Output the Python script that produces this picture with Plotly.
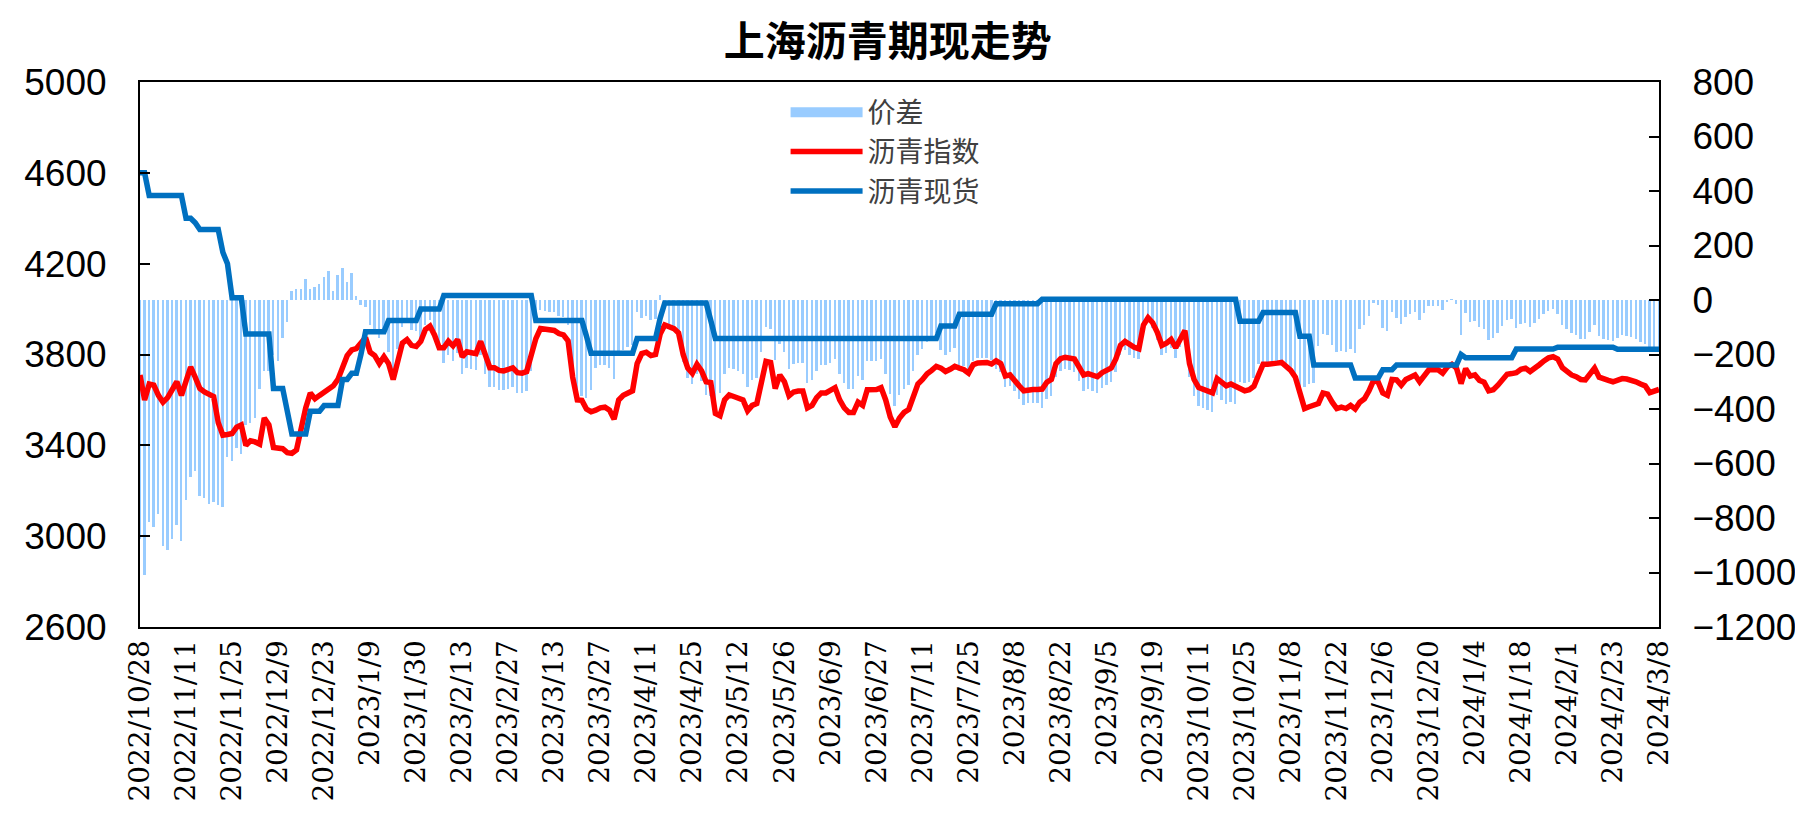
import plotly.graph_objects as go

# ---- tick labels (every 10th trading day) ----
tick_labels = ["2022/10/28", "2022/11/11", "2022/11/25", "2022/12/9", "2022/12/23",
               "2023/1/9", "2023/1/30", "2023/2/13", "2023/2/27", "2023/3/13",
               "2023/3/27", "2023/4/11", "2023/4/25", "2023/5/12", "2023/5/26",
               "2023/6/9", "2023/6/27", "2023/7/11", "2023/7/25", "2023/8/8",
               "2023/8/22", "2023/9/5", "2023/9/19", "2023/10/11", "2023/10/25",
               "2023/11/8", "2023/11/22", "2023/12/6", "2023/12/20", "2024/1/4",
               "2024/1/18", "2024/2/1", "2024/2/23", "2024/3/8"]

# ---- 沥青指数 (futures index), one value per trading day ----
index_price = [
    3710, 3600, 3670, 3665, 3620, 3590, 3610, 3640, 3680, 3620,
    3690, 3745, 3700, 3650, 3635, 3625, 3615, 3500, 3445, 3448,
    3452, 3480, 3490, 3400, 3420, 3415, 3405, 3520, 3490, 3390,
    3388, 3385, 3368, 3365, 3380, 3480, 3565, 3630, 3605, 3620,
    3632, 3650, 3662, 3690, 3740, 3795, 3820, 3826, 3850, 3875,
    3810, 3795, 3760, 3790, 3760, 3690, 3770, 3850, 3866, 3840,
    3835, 3858, 3910, 3925, 3885, 3830, 3830, 3858, 3838, 3866,
    3790, 3812, 3808, 3804, 3858, 3790, 3742, 3742, 3730, 3728,
    3735, 3741, 3720, 3718, 3725, 3800, 3870, 3914, 3910, 3906,
    3906, 3892, 3886, 3860, 3700, 3600, 3598, 3560, 3548, 3555,
    3565, 3568, 3555, 3515, 3600, 3620, 3632, 3640, 3760, 3804,
    3810, 3795, 3800, 3890, 3930, 3925, 3914, 3895, 3800, 3740,
    3717, 3757, 3728, 3680, 3676, 3540, 3530, 3600, 3622, 3615,
    3608, 3600, 3552, 3576, 3584, 3680, 3770, 3765, 3650, 3710,
    3680, 3618, 3635, 3639, 3639, 3565, 3576, 3610, 3631, 3631,
    3640, 3654, 3600, 3565, 3545, 3545, 3590, 3576, 3645, 3646,
    3646, 3654, 3600, 3525, 3482, 3520, 3545, 3558, 3610, 3670,
    3690, 3715, 3730, 3748, 3740, 3725, 3735, 3748, 3740, 3733,
    3718, 3755, 3763, 3765, 3765, 3758, 3772, 3760, 3705, 3710,
    3690, 3662, 3640, 3645, 3646, 3646, 3648, 3678, 3690, 3760,
    3782, 3788, 3785, 3780, 3745, 3710, 3716, 3710, 3702, 3720,
    3730, 3741, 3780, 3840, 3858, 3843, 3832, 3825, 3930, 3962,
    3940, 3898, 3840, 3850, 3866, 3830, 3870, 3905, 3760, 3690,
    3654, 3648, 3640, 3631, 3694, 3675, 3662, 3670, 3660, 3645,
    3640, 3645, 3660, 3710, 3757, 3757, 3757, 3762, 3765, 3748,
    3730, 3700, 3620, 3562, 3570, 3576, 3584, 3630, 3625, 3590,
    3562, 3568, 3562, 3576, 3560, 3590, 3605, 3640, 3686, 3678,
    3630, 3620, 3690, 3688, 3665, 3690, 3702, 3710, 3680, 3705,
    3733, 3733, 3733, 3718, 3745, 3757, 3740, 3672, 3738, 3705,
    3710, 3686, 3678, 3640, 3645, 3665, 3690, 3713, 3716, 3720,
    3735, 3740, 3725, 3738, 3755, 3772, 3785, 3790, 3780, 3742,
    3725, 3710, 3702, 3690, 3688, 3715, 3740, 3700, 3690, 3686,
    3680, 3685, 3694, 3692, 3688, 3680, 3670, 3662, 3632, 3640,
    3646]

# ---- 沥青现货 (spot) ----
spot_price = [
    4600, 4600, 4500, 4500, 4500, 4500, 4500, 4500, 4500, 4500,
    4400, 4400, 4380, 4350, 4350, 4350, 4350, 4350, 4250, 4200,
    4050, 4050, 4050, 3890, 3890, 3890, 3890, 3890, 3890, 3650,
    3650, 3650, 3550, 3450, 3450, 3450, 3450, 3550, 3550, 3550,
    3575, 3575, 3575, 3575, 3690, 3690, 3717, 3717, 3800, 3900,
    3900, 3900, 3900, 3900, 3950, 3950, 3950, 3950, 3950, 3950,
    3950, 4000, 4000, 4000, 4000, 4000, 4060, 4060, 4060, 4060,
    4060, 4060, 4060, 4060, 4060, 4060, 4060, 4060, 4060, 4060,
    4060, 4060, 4060, 4060, 4060, 4060, 3950, 3950, 3950, 3950,
    3950, 3950, 3950, 3950, 3950, 3950, 3950, 3880, 3805, 3805,
    3805, 3805, 3805, 3805, 3805, 3805, 3805, 3805, 3870, 3870,
    3870, 3870, 3870, 3960, 4027, 4027, 4027, 4027, 4027, 4027,
    4027, 4027, 4027, 4027, 3950, 3870, 3870, 3870, 3870, 3870,
    3870, 3870, 3870, 3870, 3870, 3870, 3870, 3870, 3870, 3870,
    3870, 3870, 3870, 3870, 3870, 3870, 3870, 3870, 3870, 3870,
    3870, 3870, 3870, 3870, 3870, 3870, 3870, 3870, 3870, 3870,
    3870, 3870, 3870, 3870, 3870, 3870, 3870, 3870, 3870, 3870,
    3870, 3870, 3870, 3870, 3925, 3925, 3925, 3925, 3977, 3977,
    3977, 3977, 3977, 3977, 3977, 3977, 4024, 4024, 4024, 4024,
    4024, 4024, 4024, 4024, 4024, 4024, 4043, 4043, 4043, 4043,
    4043, 4043, 4043, 4043, 4043, 4043, 4043, 4043, 4043, 4043,
    4043, 4043, 4043, 4043, 4043, 4043, 4043, 4043, 4043, 4043,
    4043, 4043, 4043, 4043, 4043, 4043, 4043, 4043, 4043, 4043,
    4043, 4043, 4043, 4043, 4043, 4043, 4043, 4043, 4043, 3946,
    3946, 3946, 3946, 3946, 3985, 3985, 3985, 3985, 3985, 3985,
    3985, 3985, 3880, 3880, 3880, 3754, 3754, 3754, 3754, 3754,
    3754, 3754, 3754, 3754, 3697, 3697, 3697, 3697, 3697, 3697,
    3733, 3733, 3733, 3754, 3754, 3754, 3754, 3754, 3754, 3754,
    3754, 3754, 3754, 3754, 3754, 3754, 3754, 3800, 3786, 3786,
    3786, 3786, 3786, 3786, 3786, 3786, 3786, 3786, 3786, 3824,
    3824, 3824, 3824, 3824, 3824, 3824, 3824, 3824, 3832, 3832,
    3832, 3832, 3832, 3832, 3832, 3832, 3832, 3832, 3832, 3832,
    3832, 3823, 3823, 3823, 3823, 3823, 3823, 3823, 3823, 3823,
    3823]

# ---- 价差 (basis) ----
spread = [
    -878, -1009, -813, -832, -787, -904, -918, -878, -826, -885,
    -734, -649, -629, -721, -728, -747, -741, -754, -760, -577,
    -590, -544, -564, -459, -452, -433, -328, -262, -262, -203,
    -223, -138, -79, 33, 39, 39, 78, 39, 46, 59,
    85, 105, 33, 92, 118, 66, 98, 13, -20, -25,
    -90, -105, -140, -110, -190, -260, -180, -100, -84, -110,
    -115, -142, -90, -75, -115, -170, -230, -202, -222, -194,
    -270, -248, -252, -256, -202, -270, -318, -318, -330, -332,
    -325, -319, -340, -342, -335, -260, -80, -36, -40, -44,
    -44, -58, -64, -90, -250, -350, -352, -358, -332, -250,
    -240, -237, -250, -290, -205, -185, -173, -165, -45, -66,
    -60, -75, -70, 20, -30, -102, -113, -132, -227, -287,
    -310, -270, -299, -347, -351, -410, -340, -270, -248, -255,
    -262, -270, -318, -294, -286, -190, -100, -105, -220, -160,
    -190, -252, -235, -231, -231, -305, -294, -260, -239, -239,
    -230, -216, -270, -305, -325, -325, -280, -294, -225, -224,
    -224, -216, -270, -345, -388, -350, -325, -312, -260, -200,
    -180, -155, -140, -122, -185, -200, -190, -177, -237, -244,
    -259, -222, -214, -212, -212, -219, -252, -264, -319, -314,
    -334, -362, -384, -379, -378, -378, -395, -365, -353, -283,
    -261, -255, -258, -263, -298, -333, -327, -333, -341, -323,
    -313, -302, -263, -203, -185, -200, -211, -218, -113, -81,
    -103, -145, -203, -193, -177, -213, -173, -138, -283, -353,
    -389, -395, -403, -412, -349, -368, -381, -373, -383, -301,
    -306, -301, -286, -236, -228, -228, -228, -223, -220, -237,
    -255, -285, -365, -318, -310, -304, -170, -124, -129, -164,
    -192, -186, -192, -178, -194, -107, -92, -57, -11, -19,
    -103, -113, -43, -66, -89, -64, -52, -44, -74, -49,
    -21, -21, -21, -36, -9, 3, -14, -128, -48, -81,
    -76, -100, -108, -146, -141, -121, -96, -73, -70, -104,
    -89, -84, -99, -86, -69, -52, -39, -34, -52, -90,
    -107, -122, -130, -142, -144, -117, -92, -132, -142, -146,
    -152, -138, -129, -131, -135, -143, -153, -161, -191, -183,
    -177]

x = list(range(len(index_price)))
tick_pos = x[::10]

fig = go.Figure()
# legend swatch for the bars (wide light-blue band, as in the reference)
fig.add_trace(go.Scatter(x=[None], y=[None], name="价差", mode="lines",
                         line=dict(color="#99CCFF", width=13), yaxis="y", hoverinfo="skip"))
fig.add_trace(go.Bar(x=x, y=spread, name="价差", showlegend=False,
                     marker=dict(color="#99CCFF", line=dict(width=0)),
                     width=0.42, yaxis="y"))
fig.add_trace(go.Scatter(x=x, y=index_price, name="沥青指数", mode="lines",
                         line=dict(color="#FF0000", width=5.5), yaxis="y2"))
fig.add_trace(go.Scatter(x=x, y=spot_price, name="沥青现货", mode="lines",
                         line=dict(color="#0070C0", width=5.5), yaxis="y2"))

axis_font = dict(family="Liberation Sans, Arial", size=37, color="black")

fig.update_layout(
    width=1803, height=818,
    paper_bgcolor="white", plot_bgcolor="white",
    margin=dict(l=132, r=152, t=74, b=199),
    title=dict(text="<b>上海沥青期现走势</b>", x=0.488, xanchor="center",
               y=0.9589, yanchor="middle", yref="container",
               font=dict(family="Noto Sans CJK SC", size=41, color="black")),
    showlegend=True,
    legend=dict(x=0.425, y=0.99, xanchor="left", yanchor="top",
                bgcolor="rgba(0,0,0,0)", itemwidth=72, tracegroupgap=0,
                font=dict(family="Noto Sans CJK SC", size=28, color="#404040")),
    bargap=0,
    xaxis=dict(range=[0, len(x) - 1], tickmode="array", tickvals=tick_pos, ticktext=tick_labels,
               tickangle=-90, ticks="", showgrid=False, zeroline=False,
               showline=True, linecolor="black", linewidth=2, mirror=True,
               tickfont=dict(family="DejaVu Serif", size=28, color="black"),
               automargin=False),
    yaxis=dict(side="right", range=[-1200, 800], dtick=200, tick0=-1200,
               ticks="inside", ticklen=10, tickwidth=2, tickcolor="black",
               showline=True, linecolor="black", linewidth=2,
               showgrid=False, zeroline=False, tickfont=axis_font,
               ticklabelstandoff=24, automargin=False),
    yaxis2=dict(side="left", overlaying="y", range=[2600, 5000], dtick=400, tick0=2600,
                ticks="inside", ticklen=10, tickwidth=2, tickcolor="black",
                showline=True, linecolor="black", linewidth=2,
                showgrid=False, zeroline=False, tickfont=axis_font,
                ticklabelstandoff=24, automargin=False),
)

fig.write_html("out.html")
